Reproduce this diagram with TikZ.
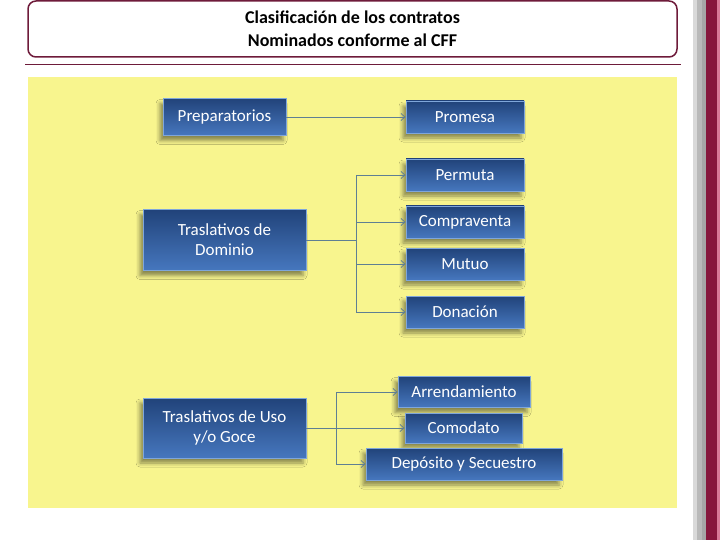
\documentclass[tikz,border=0pt]{standalone}
\usepackage{fontspec}
\setmainfont{Carlito}
\usepackage{xcolor}
\usepackage{tikz}
\usetikzlibrary{shadows.blur,arrows.meta}

\definecolor{granate}{HTML}{6E1B3A}
\definecolor{vino}{HTML}{86173C}
\definecolor{rosa}{HTML}{D77A97}
\definecolor{amarillo}{HTML}{F8F58E}
\definecolor{azulA}{HTML}{21437A}
\definecolor{azulB}{HTML}{4677BE}
\definecolor{borde}{HTML}{7FA6DA}
\definecolor{linea}{HTML}{5F7F93}

\tikzset{
  caja/.style={rectangle, top color=azulA, bottom color=azulB, draw=borde,
    line width=0.8pt, text=white, font=\fontsize{17}{20}\selectfont,
    align=center, inner sep=0pt,
    blur shadow={shadow xshift=-3pt, shadow yshift=-5pt,
      shadow blur radius=4pt, shadow opacity=45}},
  conn/.style={linea, line width=0.8pt},
  flecha/.style={conn, -{Straight Barb[length=4pt,width=7pt]}}
}

\begin{document}
\begin{tikzpicture}[x=1pt,y=-1pt]
				\useasboundingbox (0,0) rectangle (720,540);
				
				% franjas (derecha)
				\foreach \a/\b/\col in
				{693/697/gray!30, 697/702/gray!55, 702/706/gray!70, 706/717/vino, 717/720/rosa}{
					\fill[\col] (\a,0) rectangle (\b,540);
				}
				
				% titulo
				\node[draw=granate, line width=1.5pt, rounded corners=8pt,
				minimum width=649pt, minimum height=56pt, align=center,
				font=\fontsize{18}{23}\selectfont\bfseries] (titulo) at (352.5,29)
				{Clasificación de los contratos\\Nominados conforme al CFF};
				\draw[granate, line width=1pt] (25,65) -- (681,65);
				
				% fondo
				\fill[amarillo] (28,77) rectangle (677,508);
				
				% columna izquierda
				\node[caja, minimum width=123pt, minimum height=37pt] (prep) at (224.5,117) {Preparatorios};
				\node[caja, minimum width=163pt, minimum height=61pt] (dom) at (224.5,240) {Traslativos de\\Dominio};
				\node[caja, minimum width=163pt, minimum height=60pt] (uso) at (224.5,428) {Traslativos de Uso\\y/o Goce};
				
				% columna derecha
				\foreach \n/\y/\t in
				{prom/117/Promesa, perm/175/Permuta, comp/222/Compraventa, mut/264/Mutuo, don/312/Donación}{
					\node[caja, minimum width=118pt, minimum height=32pt] (\n) at (465,\y) {\t};
				}
				\node[caja, minimum width=132pt, minimum height=31pt] (arr) at (464,392) {Arrendamiento};
				\node[caja, minimum width=117pt, minimum height=30pt] (como) at (463.5,428) {Comodato};
				\node[caja, minimum width=196pt, minimum height=32pt] (dep) at (464,464) {Depósito y Secuestro};
				
				% conectores
				\draw[flecha] (prep.east) -- (prom.west);
				
				\draw[conn] (dom.east) -- ++(50,0) coordinate (dj);
				\draw[conn] (dj |- perm.west) -- (dj |- don.west);
				\foreach \n in {perm, comp, mut, don}{
					\draw[flecha] (dj |- \n.west) -- (\n.west);
				}
				
				\draw[conn] (uso.east) -- ++(30,0) coordinate (uj);
				\draw[conn] (uj |- arr.west) -- (uj |- dep.west);
				\foreach \n in {arr, como, dep}{
					\draw[flecha] (uj |- \n.west) -- (\n.west);
				}
\end{tikzpicture}
\end{document}
